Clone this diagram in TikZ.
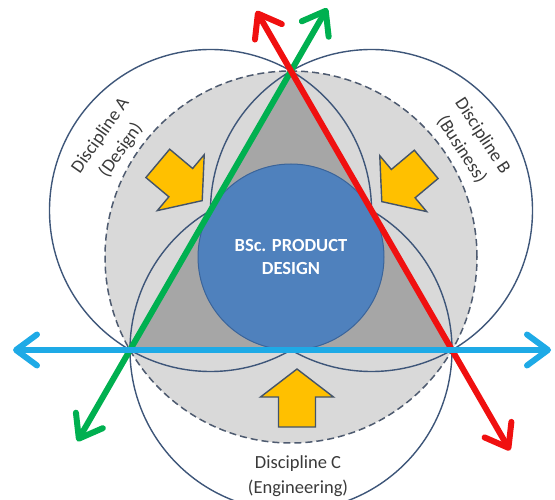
\documentclass[tikz,border=0pt]{standalone}
\usepackage{fontspec}
\setmainfont{Carlito}
\usetikzlibrary{arrows.meta,calc}
\definecolor{discline}{HTML}{3E5679}
\definecolor{dashline}{HTML}{4E5B70}
\definecolor{lightgray}{HTML}{D9D9D9}
\definecolor{trigray}{HTML}{A6A6A6}
\definecolor{coreblue}{HTML}{4F81BD}
\definecolor{coreline}{HTML}{3A649A}
\definecolor{yel}{HTML}{FFC000}
\definecolor{yelline}{HTML}{44546A}
\definecolor{redl}{HTML}{F01010}
\definecolor{greenl}{HTML}{00B050}
\definecolor{bluel}{HTML}{1EAAE6}
\definecolor{txt}{HTML}{3A3A3A}
\begin{document}
\begin{tikzpicture}[x=1pt,y=-1pt,
  disc/.style={circle, draw=discline, line width=1.4pt, minimum size=322pt, inner sep=0pt},
  outer/.style={draw=dashline, line width=1.5pt, dash pattern=on 7pt off 4pt, fill=lightgray},
  core/.style={circle, draw=coreline, line width=1pt, fill=coreblue, minimum size=186pt, inner sep=0pt,
    text=white, font=\fontsize{18.5}{23.5}\selectfont\bfseries, align=center},
  label/.style={text=txt, font=\fontsize{18.5}{25}\selectfont, align=center, inner sep=0pt},
  tip/.style={Straight Barb[round, length=21pt, width=31pt]},
  bigline/.style={line width=6pt, line cap=round, {Straight Barb[round, length=21pt, width=31pt]}-{Straight Barb[round, length=21pt, width=31pt]}},
  yellowarrow/.style={fill=yel, draw=yelline, line width=1.4pt, line join=miter},
  yarrow/.pic={\draw[yellowarrow] (-29,-18.5) -- (1,-18.5) -- (1,-36.5) -- (29,0) -- (1,36.5) -- (1,18.5) -- (-29,18.5) -- cycle;}
]
\useasboundingbox (0,0) rectangle (555,500);
\coordinate (T) at (291,71);
\coordinate (L) at (130,350);
\coordinate (R) at (452,350);
\coordinate (O) at (291,257);
\coordinate (MA) at ($(L)!0.5!(T)$);
\coordinate (MB) at ($(R)!0.5!(T)$);
\coordinate (MC) at ($(L)!0.5!(R)$);

% outer dashed circle
\path[outer] (O) circle[radius=186pt];
% triangle
\fill[trigray] (T) -- (L) -- (R) -- cycle;
% discipline circles
\node[disc] (discA) at (MA) {};
\node[disc] (discB) at (MB) {};
\node[disc] (discC) at (MC) {};
% core
\node[core] (core) at (O) {BSc. PRODUCT\\DESIGN};

% yellow arrows
\pic[rotate=-40] at (180,182) {yarrow};
\pic[rotate=220] at (404,183) {yarrow};
\pic[rotate=90] at (297,398) {yarrow};

% lines
\coordinate (gS) at ($(T)!1.327!(L)$);
\coordinate (gE) at ($(L)!1.225!(T)$);
\coordinate (rS) at ($(R)!1.215!(T)$);
\coordinate (rE) at ($(T)!1.36!(R)$);
\coordinate (bS) at (13,350);
\coordinate (bE) at (551,350);
\draw[bigline, greenl] (gS) -- (gE);
\draw[bigline, redl] (rS) -- (rE);
\draw[bigline, bluel] (bS) -- (bE);

% labels
\node[label, rotate=55] (labA) at (111,143) {Discipline A\\(Design)};
\node[label, rotate=-57] (labB) at (472,143) {Discipline B\\(Business)};
\node[label] (labC) at (298,476) {Discipline C\\(Engineering)};
\end{tikzpicture}
\end{document}
